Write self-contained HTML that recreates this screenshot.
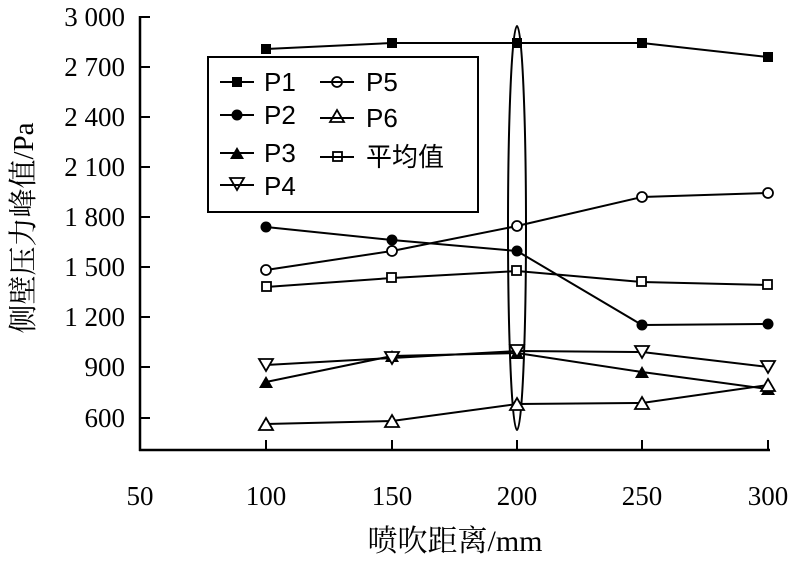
<!DOCTYPE html>
<html><head><meta charset="utf-8"><style>body{margin:0;background:#fff}</style></head><body>
<svg width="790" height="560" xmlns="http://www.w3.org/2000/svg" font-family="Liberation Serif, Noto Serif CJK SC, serif">
<g stroke="#000" stroke-width="2.5" fill="none">
<line x1="140" y1="16" x2="140" y2="451"/><line x1="139" y1="450" x2="770" y2="450"/>
<g stroke-width="2">
<line x1="140" y1="17" x2="150" y2="17"/><line x1="140" y1="67" x2="150" y2="67"/><line x1="140" y1="117" x2="150" y2="117"/><line x1="140" y1="167" x2="150" y2="167"/><line x1="140" y1="217" x2="150" y2="217"/><line x1="140" y1="267" x2="150" y2="267"/><line x1="140" y1="317" x2="150" y2="317"/><line x1="140" y1="367" x2="150" y2="367"/><line x1="140" y1="418" x2="150" y2="418"/>
<line x1="266" y1="450" x2="266" y2="440"/><line x1="392" y1="450" x2="392" y2="440"/><line x1="517" y1="450" x2="517" y2="440"/><line x1="642" y1="450" x2="642" y2="440"/><line x1="768" y1="450" x2="768" y2="440"/>
</g>
<g stroke-width="2">
<polyline points="266,49 392,43 517,43 642,43 768,57"/>
<polyline points="266,227 392,240 517,251 642,325 768,324"/>
<polyline points="266,382 392,356 517,353 642,372 768,389"/>
<polyline points="266,365 392,358 517,351 642,352 768,367"/>
<polyline points="266,270 392,251 517,226 642,197 768,193"/>
<polyline points="266,424 392,421 517,404 642,403 768,385"/>
<polyline points="266,287 392,278 517,271 642,282 768,285"/>
</g>
<ellipse cx="517" cy="228" rx="9" ry="202" stroke-width="2"/>
<rect x="208" y="57" width="270" height="155" stroke-width="2"/>
</g>
<g fill="#000">
<rect x="261" y="44" width="10" height="10"/><rect x="387" y="38" width="10" height="10"/><rect x="512" y="38" width="10" height="10"/><rect x="637" y="38" width="10" height="10"/><rect x="763" y="52" width="10" height="10"/>
<circle cx="266" cy="227" r="5.5"/><circle cx="392" cy="240" r="5.5"/><circle cx="517" cy="251" r="5.5"/><circle cx="642" cy="325" r="5.5"/><circle cx="768" cy="324" r="5.5"/>
<path d="M266 376l7 12h-14z M392 350l7 12h-14z M517 347l7 12h-14z M642 366l7 12h-14z M768 383l7 12h-14z"/>
<rect x="232" y="77" width="10" height="10"/><circle cx="237" cy="115" r="5.5"/><path d="M237 147l7 12h-14z"/>
</g>
<g fill="#fff" stroke="#000" stroke-width="1.8">
<path d="M266 371l7-12h-14z M392 364l7-12h-14z M517 357l7-12h-14z M642 358l7-12h-14z M768 373l7-12h-14z"/>
<circle cx="266" cy="270" r="5"/><circle cx="392" cy="251" r="5"/><circle cx="517" cy="226" r="5"/><circle cx="642" cy="197" r="5"/><circle cx="768" cy="193" r="5"/>
<path d="M266 418l7 12h-14z M392 415l7 12h-14z M517 398l7 12h-14z M642 397l7 12h-14z M768 379l7 12h-14z"/>
<rect x="262" y="282" width="9" height="9"/><rect x="387" y="273" width="9" height="9"/><rect x="512" y="266" width="9" height="9"/><rect x="637" y="277" width="9" height="9"/><rect x="763" y="280" width="9" height="9"/>
<path d="M237 190l7-12h-14z"/><circle cx="337" cy="82" r="5"/><path d="M337 110l7 12h-14z"/><rect x="333" y="152" width="9" height="9"/>
</g>
<g stroke="#000" stroke-width="2">
<line x1="220" y1="82" x2="254" y2="82"/><line x1="220" y1="115" x2="254" y2="115"/><line x1="220" y1="153" x2="254" y2="153"/><line x1="220" y1="185" x2="254" y2="185"/>
<line x1="320" y1="82" x2="354" y2="82"/><line x1="320" y1="118" x2="354" y2="118"/><line x1="320" y1="157" x2="354" y2="157"/>
</g>
<g font-family="Liberation Sans, sans-serif" font-size="26">
<text x="264" y="91">P1</text><text x="264" y="124">P2</text><text x="264" y="162">P3</text><text x="264" y="195">P4</text>
<text x="366" y="91">P5</text><text x="366" y="127">P6</text>
<text x="366" y="166" font-family="Liberation Sans, Noto Sans CJK SC, sans-serif">平均值</text>
</g>
<g font-size="27" text-anchor="end">
<text x="125" y="26">3 000</text><text x="125" y="76">2 700</text><text x="125" y="126">2 400</text><text x="125" y="176">2 100</text><text x="125" y="226">1 800</text><text x="125" y="276">1 500</text><text x="125" y="326">1 200</text><text x="125" y="376">900</text><text x="125" y="427">600</text>
</g>
<g font-size="27" text-anchor="middle">
<text x="140" y="505">50</text><text x="266" y="505">100</text><text x="392" y="505">150</text><text x="517" y="505">200</text><text x="642" y="505">250</text><text x="768" y="505">300</text>
<text x="455" y="551" font-size="30">喷吹距离/mm</text>
<text transform="translate(33,228) rotate(-90)" font-size="29">侧壁压力峰值/Pa</text>
</g>
</svg>
</body></html>
